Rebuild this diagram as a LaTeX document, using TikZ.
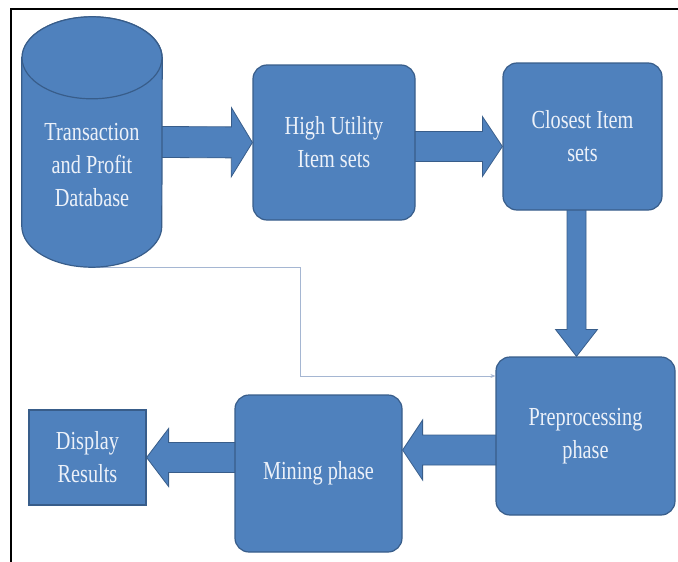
\documentclass[tikz,border=0pt]{standalone}
\usepackage{fontspec}
\usetikzlibrary{calc,arrows.meta,backgrounds}
\newfontfamily\boxfont[FakeStretch=0.78]{Liberation Serif}
\newlength{\dbradiusx}
\newlength{\dbradiusy}
\newlength{\boxcorner}
\setlength{\dbradiusx}{70pt}
\setlength{\dbradiusy}{41pt}
\setlength{\boxcorner}{14pt}
\definecolor{boxfillcolor}{RGB}{79,129,189}
\definecolor{boxbordercolor}{RGB}{56,93,138}
\definecolor{boxtextcolor}{RGB}{236,241,249}
\definecolor{linkcolor}{RGB}{165,182,210}
\tikzstyle{boxtext} = [font=\boxfont\fontsize{26}{33}\selectfont, text=boxtextcolor, align=center]
\tikzstyle{procbox} = [boxtext, draw=boxbordercolor, fill=boxfillcolor, line width=1.2pt, rounded corners=\boxcorner, inner sep=0]
\tikzstyle{plainbox} = [procbox, sharp corners]
\tikzstyle{dbbody} = [inner sep=0]
\tikzstyle{dbshape} = [draw=boxbordercolor, fill=boxfillcolor, line width=1.2pt]
\tikzstyle{fatarrow} = [draw=boxbordercolor, fill=boxfillcolor, line width=0.8pt, line join=miter]
\tikzstyle{linkline} = [draw=linkcolor, line width=0.8pt, -{Stealth[length=5pt,width=4pt]}]
% block arrow: from, to, half shaft, head length, half head
\newcommand{\blockarrow}[5]{
	\begin{pgfonlayer}{background}
		\coordinate (tailbase) at ($(#1)!-6pt!(#2)$);
		\coordinate (headbase) at ($(#2)!#4!(#1)$);
		\filldraw[fatarrow] ($(tailbase)!#3!90:(#2)$) -- ($(headbase)!#3!90:(#2)$) -- ($(headbase)!#5!90:(#2)$) -- (#2) -- ($(headbase)!#5!-90:(#2)$) -- ($(headbase)!#3!-90:(#2)$) -- ($(tailbase)!#3!-90:(#2)$) -- cycle;
	\end{pgfonlayer}
}
\begin{document}
\begin{tikzpicture}[
		x=1pt, y=-1pt
		]
		\useasboundingbox (0,0) rectangle (678,562);
		\draw[line width=1.4pt] (11,562) -- (11,9) -- (678,9);
		
		% database cylinder
		\node[dbbody, minimum width=140pt, minimum height=250pt] (database) at (92,142) {};
		\coordinate (elbow) at (300,376);
		\node[procbox, minimum width=179pt, minimum height=158pt] (preproc) at (585.5,436) {Preprocessing\\phase};
		\draw[linkline] (database.south) -| (elbow) -- (elbow -| preproc.west);
		\filldraw[dbshape] ([yshift=-\dbradiusy]database.north west) -- ([yshift=\dbradiusy]database.south west) arc[start angle=180, end angle=360, x radius=\dbradiusx, y radius=\dbradiusy] -- ([yshift=-\dbradiusy]database.north east) arc[start angle=0, end angle=180, x radius=\dbradiusx, y radius=\dbradiusy] -- cycle;
		\draw[dbshape] ([yshift=-\dbradiusy]database.north) ellipse[x radius=\dbradiusx, y radius=\dbradiusy];
		\node[boxtext] (dbtext) at (92,165) {Transaction\\and Profit\\Database};
		
		\node[procbox, minimum width=162pt, minimum height=155pt] (highutility) at (334,142.5) {High Utility\\Item sets};
		\node[procbox, minimum width=159pt, minimum height=147pt] (closest) at (582.5,136.5) {Closest Item\\sets};
		\node[procbox, minimum width=167pt, minimum height=157pt] (mining) at (318.5,473.5) {Mining phase};
		\node[plainbox, minimum width=117pt, minimum height=95pt] (display) at (87.5,457.5) {Display\\Results};
		
		% arrows between the steps
		\blockarrow{database.east}{highutility.west}{15.5pt}{21pt}{34.5pt}
		\coordinate (hustart) at ([yshift=-4pt]highutility.east);
		\coordinate (huend) at (hustart -| closest.west);
		\blockarrow{hustart}{huend}{15pt}{20pt}{30pt}
		\coordinate (clstart) at ([xshift=-6pt]closest.south);
		\coordinate (clend) at (clstart |- preproc.north);
		\blockarrow{clstart}{clend}{9.5pt}{27pt}{21pt}
		\coordinate (prstart) at ([yshift=-14pt]preproc.west);
		\coordinate (prend) at (prstart -| mining.east);
		\blockarrow{prstart}{prend}{15pt}{20pt}{30pt}
		\coordinate (mistart) at (mining.west |- display.east);
		\blockarrow{mistart}{display.east}{15pt}{22pt}{29pt}
		
	\end{tikzpicture}
\end{document}
